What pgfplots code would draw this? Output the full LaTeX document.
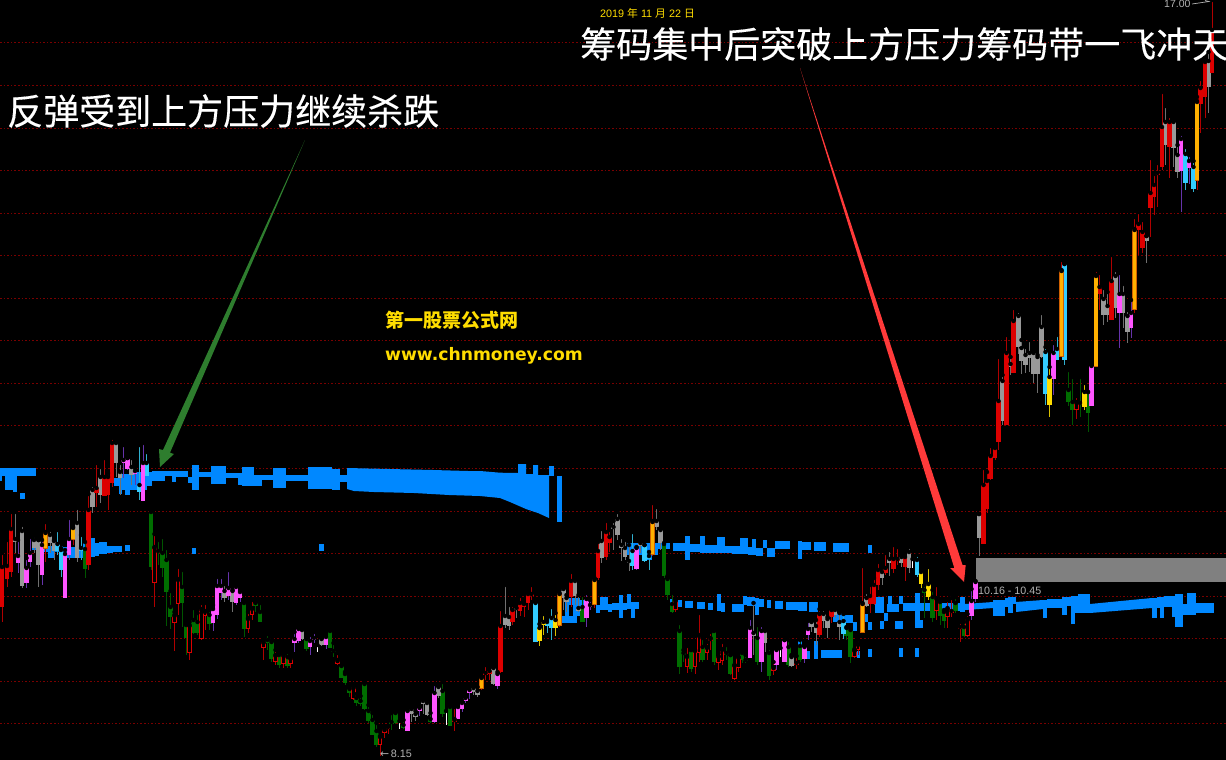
\documentclass[border=0pt]{standalone}
\usepackage{fontspec}
\usepackage{pgfplots}
\usepackage{pgfplotstable}
\pgfplotsset{compat=1.18}
\setmainfont{Liberation Sans}
\newfontfamily\cjk{Noto Sans CJK SC}
\newfontfamily\cjkh[FakeBold=0.3]{Noto Sans CJK SC}
\newfontfamily\dejab{DejaVu Sans Bold}
\newfontfamily\deja{DejaVu Sans}

\definecolor{cblue}{HTML}{0088FF}
\definecolor{cred}{HTML}{DD0000}
\definecolor{wred}{HTML}{B00000}
\definecolor{cgray}{HTML}{999999}
\definecolor{wgray}{HTML}{707070}
\definecolor{cmag}{HTML}{FF55FF}
\definecolor{wmag}{HTML}{6633AA}
\definecolor{cgold}{HTML}{FFB000}
\definecolor{egold}{HTML}{D06000}
\definecolor{cyel}{HTML}{FFDD00}
\definecolor{wyel}{HTML}{D8C000}
\definecolor{ccyan}{HTML}{33CCFF}
\definecolor{wcyan}{HTML}{30B0D0}
\definecolor{cgreen}{HTML}{006E00}
\definecolor{wgreen}{HTML}{005500}
\definecolor{gridc}{HTML}{7A0000}
\definecolor{agreen}{HTML}{2E7D2E}
\definecolor{ared}{HTML}{FF3A3A}

% x hi lo top bot, all in picture pixels
\pgfplotstableread{
x hi lo top bot
2 553 622 567 607
7 540 587 566 579
11 512 577 529 572
88.5 494 570 510 565
96.5 463 507 488 493
104.5 458 496 477 496
108 473 510 477 495
112 438 487 443 483
500.5 609 673 626 672
512.5 605 625 610 622
520 596 616 603 611
524 604 617 603 607
528 592 610 594 603
531.5 585 600 594 596
485.5 665 680 673 675
489.5 668 680 671 674
388 726 734 727 729
571 572 607 581 597
598 542 580 551 578
606 521 560 532 557
609.5 530 552 537 543
796.5 656 669 663 665
819.5 609 637 614 635
831.5 607 623 610 617
870 585 613 596 604
874 578 605 585 604
878 562 590 570 585
885.5 553 575 568 573
893.5 545 573 559 569
897.5 547 565 559 561
905 553 581 557 567
951.5 598 617 611 613
960 622 642 627 629
983.5 468 544 485 544
987 472 513 481 509
990.5 446 480 456 479
995 447 460 448 458
998.5 357 450 401 442
1006.5 335 425 353 425
1013.5 308 373 321 373
1099.5 273 310 287 294
1111.5 255 320 281 320
1138.5 212 255 224 230
1142.5 220 253 232 248
1150.5 158 237 193 208
1154 174 215 185 197
1157.5 163 207 173 175
1162 92 170 127 167
1169.5 116 178 122 147
1200.5 79 133 88 104
1205 58 118 62 97
1212 0 73 30 73
}\tred
\pgfplotstableread{
x hi lo top bot
15 512 553 539 542
22 525 588 531 586
34 536 553 540 548
38.5 540 587 540 565
50 530 553 535 543
54 540 560 541 551
77 508 562 523 558
92.5 485 513 490 507
100.5 467 503 477 495
116 442 477 443 463
120 463 495 472 478
131.5 458 485 467 475
224.5 584 602 591 598
232.5 590 612 591 602
302 629 640 630 639
321.5 638 646 639 645
411.5 708 722 709 714
415.5 711 721 714 717
423 698 714 701 704
427 700 716 703 715
438.5 686 698 687 696
473.5 685 695 688 692
477.5 687 697 691 695
493.5 667 685 668 684
505 585 628 616 625
509 605 630 617 626
516.5 604 618 608 610
563.5 588 610 589 598
566.5 595 612 598 602
575 578 605 581 596
578.5 595 612 608 611
601.5 529 563 541 558
613.5 521 550 527 529
617.5 512 540 519 535
621.5 537 561 545 548
625 540 560 548 557
629 545 571 561 563
640.5 541 553 543 546
656.5 507 530 521 527
660.5 528 550 530 543
753.5 603 655 633 636
765 630 652 631 643
791.5 655 667 657 666
811.5 619 632 622 627
816 620 645 626 633
823.5 609 628 614 621
827.5 617 638 619 628
835 608 618 610 615
839.5 613 640 622 627
866.5 592 607 598 606
882 568 585 572 578
889.5 550 576 559 563
901.5 553 567 557 563
909 547 573 552 568
979 514 556 514 538
1002.5 375 425 381 421
1010.5 357 375 364 367
1018.5 311 354 316 347
1021.5 340 374 348 361
1025.5 347 373 355 365
1029.5 340 372 353 358
1033.5 350 383 353 374
1037.5 355 393 357 374
1041.5 313 358 327 357
1103.5 288 325 299 315
1107.5 292 322 306 315
1115.5 270 318 276 308
1123 284 328 294 313
1127.5 310 343 316 332
1146.5 236 263 236 241
1165.5 106 165 122 145
1173.5 118 167 122 148
1177.5 145 178 155 172
1208.5 52 113 61 87
}\tgray
\pgfplotstableread{
x hi lo top bot
18 540 573 556 563
26.5 558 588 568 583
30 537 567 553 562
42 540 585 545 575
65 550 598 554 598
69 518 560 539 555
123.5 445 478 460 463
127.5 458 470 458 469
135 468 485 471 474
143 443 501 463 501
213 605 631 609 623
217 577 619 586 615
221 577 600 586 593
228.5 570 600 588 596
236 585 605 587 603
240 590 602 592 598
294.5 632 652 639 643
298.5 627 643 629 641
310 635 655 641 647
314 632 643 638 640
326 634 649 637 645
407.5 710 731 711 731
419.5 706 716 708 711
434.5 684 723 693 722
458 705 719 707 719
462 700 712 703 709
465.5 695 703 698 701
469.5 686 699 690 693
497.5 672 689 674 686
586.5 593 627 599 618
590 600 610 605 607
636.5 547 570 548 569
750 618 658 628 658
761.5 625 672 631 662
776.5 648 670 650 665
784.5 640 662 640 662
804.5 645 663 647 659
808 621 640 629 635
971.5 589 620 601 616
975.5 581 602 582 599
1053.5 343 395 353 379
1091.5 362 406 366 406
1119.5 273 348 294 313
1131 300 338 313 328
1181 134 212 139 171
1189 155 184 161 168
}\tmag
\pgfplotstableread{
x hi lo top bot
45.5 522 562 532 549
73 527 545 527 540
481.5 677 690 677 689
559.5 590 627 593 626
594.5 578 608 579 605
652.5 503 556 521 555
862.5 566 633 603 633
1061.5 260 357 270 357
1096 270 367 275 367
1134.5 217 313 229 310
1197 97 190 101 181
}\tgold
\pgfplotstableread{
x hi lo top bot
539.5 624 646 628 641
543.5 614 635 622 625
555.5 613 636 620 628
921 570 588 572 584
928.5 567 600 584 597
1049.5 367 417 377 405
1084.5 383 410 392 407
}\tyel
\pgfplotstableread{
x hi lo top bot
57.5 530 555 544 551
61 548 577 550 570
81 535 560 548 551
139.5 445 500 485 492
146.5 452 476 463 476
535.5 602 642 603 642
547 620 633 622 626
551.5 607 640 618 628
632.5 532 570 551 566
644.5 545 562 545 561
649 552 570 556 559
843.5 614 639 621 634
917 555 577 560 575
1045.5 347 405 352 394
1057 335 360 349 360
1064.5 264 365 264 360
1185.5 147 190 154 183
1193.5 161 192 167 189
}\tcyan
\pgfplotstableread{
x hi lo top bot
85 542 578 549 569
151 511 570 512 567
158 540 565 551 553
162.5 537 577 553 568
166.5 548 626 560 592
170.5 591 629 607 617
182 570 627 587 603
186 622 655 625 638
193.5 608 634 620 633
197.5 613 635 622 633
209.5 610 630 615 624
244 600 637 603 629
255.5 600 612 603 606
260 603 622 612 622
267.5 634 650 640 643
271.5 640 662 642 659
279 652 668 655 665
287.5 652 668 657 666
306.5 637 651 639 649
330 630 648 631 648
333.5 643 657 651 652
341.5 665 678 666 678
345 672 685 674 683
349.5 685 697 689 693
356.5 694 706 698 703
360.5 696 706 701 704
364.5 680 710 684 709
368.5 705 723 711 721
372.5 713 735 720 735
376.5 723 747 731 745
391.5 713 730 722 724
395.5 709 724 713 723
403.5 720 729 725 728
430.5 713 723 719 722
442.5 682 717 691 714
450 705 726 707 726
582.5 595 622 607 622
664 543 578 544 576
667.5 576 600 579 595
672 593 613 604 612
679.5 623 674 631 667
683.5 650 662 653 655
691 650 672 650 669
702.5 638 662 647 660
714 630 665 631 662
726.5 645 660 653 655
730.5 655 675 655 674
742 650 663 653 660
745.5 655 663 660 661
757.5 625 665 638 662
769 648 680 653 676
788.5 640 667 647 665
800 640 662 646 660
846.5 627 640 628 636
850.5 628 663 630 657
924.5 585 618 590 593
932.5 590 622 597 618
940 600 625 602 616
944 610 628 612 621
955.5 597 613 603 611
964 622 637 627 636
1068.5 370 406 390 402
1072.5 377 425 402 410
1080 377 417 403 405
1088 392 432 392 413
}\tgreen
\pgfplotstableread{
x hi lo top bot
154.5 534 607 547 583
174.5 612 651 615 623
178 567 615 579 604
189.5 622 660 625 653
201.5 603 640 609 639
205 603 630 611 616
248 612 633 618 629
252 600 620 608 615
263.5 640 660 642 648
275.5 650 665 655 662
283.5 652 668 655 664
290.5 655 668 658 664
337.5 653 665 660 664
353.5 686 700 687 699
380 732 756 736 745
384.5 727 738 729 733
454.5 707 731 719 722
675.5 598 612 600 610
687 646 673 656 667
695 650 674 650 667
699 613 662 635 653
707 642 660 647 653
710.5 632 650 638 641
718.5 653 670 656 663
722 642 665 649 661
734.5 665 680 665 679
738.5 657 672 657 668
773.5 662 675 667 671
854.5 649 658 650 657
858 640 655 644 650
936.5 585 620 598 611
947.5 600 628 608 617
967.5 614 637 619 636
1076.5 396 419 402 410
}\thollow
\pgfplotstableread{
x hi lo top bot
317.5 645 652 646 651
399.5 721 729 721 729
446 711 725 712 725
780.5 648 657 648 657
912.5 559 568 559 568
}\twhite

\newcommand{\wicks}[2]{%
  \addplot[forget plot, only marks, mark=none,
    error bars/.cd, y dir=plus, y explicit, error mark=none,
    error bar style={line width=1pt, color=#2}]
    table[x=x, y=hi, y error plus expr=\thisrow{lo}-\thisrow{hi}] {#1};}
\newcommand{\bodies}[3][4.6pt]{%
  \addplot[forget plot, only marks, mark=none,
    error bars/.cd, y dir=plus, y explicit, error mark=none,
    error bar style={line width=#1, color=#3}]
    table[x=x, y=top, y error plus expr=\thisrow{bot}-\thisrow{top}] {#2};}
\newcommand{\inner}[3][2.4pt]{%
  \addplot[forget plot, only marks, mark=none,
    error bars/.cd, y dir=plus, y explicit, error mark=none,
    error bar style={line width=#1, color=#3}]
    table[x=x, y expr=\thisrow{top}+1, y error plus expr=\thisrow{bot}-\thisrow{top}-2] {#2};}
\newcommand{\blk}[4]{\addplot[forget plot, fill=cblue, draw=none] coordinates {(#1,#3)(#2,#3)(#2,#4)(#1,#4)} -- cycle;}

\begin{document}
\begin{tikzpicture}
\useasboundingbox (0,0) rectangle (1226pt,760pt);
\begin{axis}[
  at={(0,0)}, anchor=south west,
  scale only axis, width=1226pt, height=760pt,
  xmin=0, xmax=1226, ymin=0, ymax=760, y dir=reverse,
  axis background/.style={fill=black},
  axis line style={draw=none},
  xtick=\empty, ytick=\empty,
]
% dotted price lines
\pgfplotsinvokeforeach{43,85,128,170,213,255,298,340,383,425,468,511,553,596,638,681,723}{
  \addplot[forget plot, color=gridc, line width=1pt, dash pattern=on 1.5pt off 2.1pt] coordinates {(0,#1)(1226,#1)};
}
% grey band
\addplot[forget plot, fill=gray, draw=none] coordinates {(976,558)(1226,558)(1226,582)(976,582)} -- cycle;

% upper band, left
\blk{0}{36}{468}{476}
\blk{0}{1.5}{476}{481}
\blk{5}{13}{476}{490}
\blk{13}{17}{476}{492}
\blk{20}{24.5}{493}{499}
% main upper band
\blk{114}{119}{478}{486}
\blk{119}{122}{476}{494}
\blk{122}{133}{474}{490}
\blk{125}{130}{490}{495}
\blk{133}{147}{472}{490}
\blk{147}{152}{472}{486}
\blk{152}{165}{471}{481}
\blk{165}{172}{471}{476}
\blk{172}{176}{471}{482}
\blk{176}{188}{471}{477}
\blk{188}{192}{477}{483}
\blk{192}{199}{465}{490}
\blk{199}{211}{472}{477}
\blk{211}{226}{466}{484}
\blk{226}{238}{473}{478}
\blk{238}{242}{473}{485}
\blk{242}{254}{467}{486}
\blk{254}{262}{475}{486}
\blk{262}{273}{475}{480}
\blk{273}{286}{468}{488}
\blk{286}{308}{475}{481}
\blk{308}{332}{467}{489}
\blk{332}{340}{469}{490}
\blk{340}{347}{475}{482}
\addplot[forget plot, fill=cblue, draw=none] coordinates {
 (347,468)(389,469)(433,470)(468,471)(480,471)(500,472.7)(518,473)
 (518,464)(526,464)(526,474)(533,474)(533,465)(538,465)(538,475)(549,475)
 (549,518)(538,513)(526,509)(510,502)(500,498)(480,496)(449,495)(414,493)(374,492)(354,491)(347,489)
} -- cycle;
\blk{549}{554}{466}{476}
\blk{557}{562}{476}{522}
\blk{319}{324}{544}{551}
\blk{192}{196}{548}{554}
% lower band, left
\blk{32}{36}{545}{550}
\blk{36}{48}{546}{552}
\blk{48}{55}{546}{558}
\blk{55}{63}{546}{552}
\blk{63}{72}{547}{558}
\blk{72}{83}{547}{558}
\blk{83}{91}{543}{553}
\blk{91}{95}{538}{557}
\blk{95}{99}{543}{556}
\blk{99}{107}{542}{554}
\blk{107}{113}{546}{553}
\blk{113}{122}{546}{552}
\blk{125}{130}{545}{551}
% middle upper band
\blk{627}{658}{543}{555}
\blk{647}{652}{555}{560}
\blk{658}{670}{543}{549}
\blk{673}{685}{543}{551}
\blk{685}{690}{536}{560}
\blk{690}{700}{544}{552}
\blk{700}{705}{536}{553}
\blk{705}{717}{545}{553}
\blk{717}{725}{537}{553}
\blk{725}{732}{546}{553}
\blk{732}{740}{546}{554}
\blk{740}{748}{538}{554}
\blk{748}{752}{547}{555}
\blk{752}{756}{539}{555}
\blk{756}{763}{548}{556}
\blk{763}{767}{540}{548}
\blk{767}{775}{548}{557}
\blk{775}{790}{541}{549}
\blk{798}{802}{541}{559}
\blk{802}{811}{542}{550}
\blk{814}{826}{542}{551}
\blk{833}{849}{543}{552}
\blk{868}{872}{545}{553}
% lower band, middle
\blk{562}{577}{616}{623}
\blk{565}{569}{598}{616}
\blk{573}{580}{598}{616}
\blk{569}{573}{598}{605}
\blk{580}{585}{600}{610}
\blk{596}{600}{605}{613}
\blk{600}{608}{597}{610}
\blk{608}{612}{604}{612}
\blk{612}{619}{603}{610}
\blk{619}{623}{595}{618}
\blk{623}{627}{603}{610}
\blk{627}{631}{594}{609}
\blk{631}{635}{602}{618}
\blk{635}{639}{602}{609}
\blk{670}{673}{599}{605}
\blk{678}{682}{600}{607}
\blk{685}{693}{601}{608}
\blk{697}{705}{602}{609}
\blk{708}{713}{603}{610}
\blk{717}{721}{594}{611}
\blk{721}{725}{603}{612}
\blk{732}{744}{604}{612}
\blk{743}{747}{596}{605}
\blk{747}{755}{597}{606}
\blk{755}{759}{598}{615}
\blk{759}{764}{599}{607}
\blk{767}{771}{600}{608}
\blk{775}{783}{601}{609}
\blk{786}{798}{602}{610}
\blk{798}{807}{602}{611}
\blk{809}{818}{602}{612}
\blk{833}{842}{613}{622}
\blk{838}{853}{615}{623}
\blk{853}{857}{622}{631}
% bottom row
\blk{798}{802}{641}{659}
\blk{806}{810}{651}{659}
\blk{814}{818}{641}{659}
\blk{821}{842}{650}{658}
\blk{857}{860}{651}{658}
\blk{868}{872}{649}{657}
\blk{899}{903}{648}{657}
\blk{915}{919}{648}{657}
% lower band, right part
\blk{865}{868}{614}{622}
\blk{868}{872}{622}{630}
\blk{880}{884}{621}{629}
\blk{884}{888}{613}{621}
\blk{895}{903}{621}{629}
\blk{915}{923}{620}{628}
\blk{875}{884}{597}{613}
\blk{887}{899}{604}{612}
\blk{888}{892}{596}{604}
\blk{899}{903}{596}{604}
\blk{903}{915}{603}{611}
\blk{915}{920}{593}{620}
\blk{920}{930}{603}{611}
\blk{930}{960}{603}{611}
\blk{960}{965}{597}{612}
\addplot[forget plot, fill=cblue, draw=none] coordinates {(965,604)(993,602)(993,608)(965,610)} -- cycle;
\blk{993}{1005}{600}{616}
\blk{1005}{1008}{598}{607}
\blk{1008}{1013}{597}{613}
\blk{1013}{1016}{597}{604}
\addplot[forget plot, fill=cblue, draw=none] coordinates {(1016,602)(1043,600)(1043,609)(1016,612)} -- cycle;
\blk{1043}{1047}{600}{618}
\blk{1047}{1062}{599}{608}
\blk{1062}{1067}{597}{615}
\blk{1067}{1071}{597}{606}
\blk{1071}{1075}{596}{624}
\blk{1075}{1078}{596}{613}
\blk{1078}{1090}{594}{613}
\addplot[forget plot, fill=cblue, draw=none] coordinates {(1090,604)(1152,598)(1152,608)(1090,613)} -- cycle;
\blk{1152}{1157}{598}{618}
\blk{1157}{1160}{597}{608}
\blk{1160}{1164}{597}{618}
\blk{1164}{1172}{596}{607}
\blk{1172}{1175}{596}{617}
\blk{1175}{1183}{594}{627}
\blk{1183}{1187}{604}{615}
\blk{1187}{1196}{593}{615}
\blk{1196}{1214}{603}{613}

% candles: all wicks first, bodies over them
\wicks{\tred}{wred}
\wicks{\tgray}{wgray}
\wicks{\tmag}{wmag}
\wicks{\tgreen}{wgreen}
\wicks{\tcyan}{wcyan}
\wicks{\tyel}{wyel}
\wicks{\tgold}{wred}
\wicks{\thollow}{wred}
\wicks{\twhite}{white}
\bodies{\tgreen}{cgreen}
\bodies{\tgray}{cgray}
\bodies{\tred}{cred}
\bodies{\tcyan}{ccyan}
\bodies{\tmag}{cmag}
\bodies{\tyel}{cyel}
\bodies{\tgold}{egold}
\inner[3.2pt]{\tgold}{cgold}
\bodies{\thollow}{cred}
\inner{\thollow}{black}

% arrows
\addplot[forget plot, fill=agreen, draw=none] coordinates {
 (305,140)(170,452.7)(174,454)(160,467)(159,449)(163,450)} -- cycle;
\addplot[forget plot, fill=ared, draw=none] coordinates {
 (800,68)(962.5,565)(965.7,565)(964,582)(950,568)(954.3,568)} -- cycle;

% texts
\node[anchor=west, text=white, inner sep=0pt] at (axis cs:580,44) {\cjkh\fontsize{36}{36}\selectfont 筹码集中后突破上方压力筹码带一飞冲天};
\node[anchor=west, text=white, inner sep=0pt] at (axis cs:7,111) {\cjkh\fontsize{36}{36}\selectfont 反弹受到上方压力继续杀跌};
\node[anchor=west, text=cyel, inner sep=0pt] at (axis cs:385,320) {\cjk\bfseries\fontsize{19}{19}\selectfont 第一股票公式网};
\node[anchor=west, text=cyel, inner sep=0pt] at (axis cs:385,356) {\dejab\fontsize{17.2}{17}\selectfont www.chnmoney.com};
\node[anchor=west, text=cyel, inner sep=0pt] at (axis cs:600,13) {\fontsize{10.8}{11}\selectfont 2019 {\cjk 年} 11 {\cjk 月} 22 {\cjk 日}};
\node[anchor=west, text=white!70!black, inner sep=0pt] at (axis cs:978,591) {\fontsize{10.7}{11}\selectfont 10.16 - 10.45};
\node[anchor=west, text=white!70!black, inner sep=0pt] at (axis cs:380,754) {\fontsize{10.8}{11}\selectfont{\deja ←}\hspace{1.5pt}8.15};
\node[anchor=west, text=white!70!black, inner sep=0pt] at (axis cs:1164,4) {\fontsize{10.5}{11}\selectfont 17.00};
\addplot[forget plot, color=white!70!black, line width=0.7pt] coordinates {(1192,4)(1209,1.5)(1205,0.5)};
\end{axis}
\end{tikzpicture}
\end{document}
